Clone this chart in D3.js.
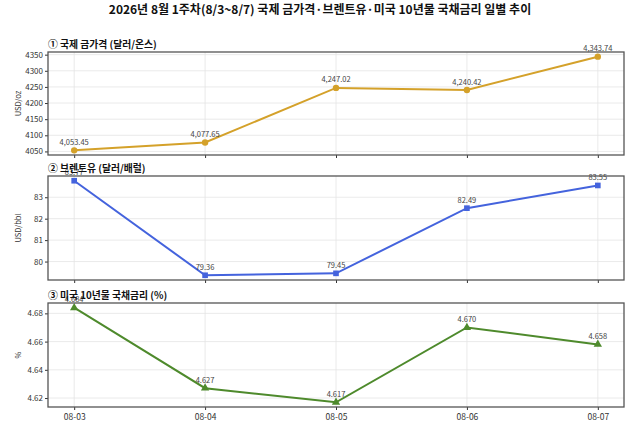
<!DOCTYPE html>
<html>
<head>
<meta charset="utf-8">
<script src="https://cdn.jsdelivr.net/npm/d3@7"></script>
<style>
  body { margin: 0; background: #fff; }
  text { font-family: "Noto Sans CJK KR", "Noto Sans", sans-serif; }
</style>
</head>
<body>
<svg id="chart"></svg>
<script>
const dates = ['08-03', '08-04', '08-05', '08-06', '08-07']
const gold = [4053.45, 4077.65, 4247.02, 4240.42, 4343.74]
const brent = [83.77, 79.36, 79.45, 82.49, 83.55]
const treasury = [4.684, 4.627, 4.617, 4.670, 4.658]

const goldTicks = [4050, 4100, 4150, 4200, 4250, 4300, 4350]
const brentTicks = [80, 81, 82, 83]
const treasuryTicks = [4.62, 4.64, 4.66, 4.68]

const W = 640, H = 430
const left = 48, right = 624

let svg = d3.select('#chart').attr('width', W).attr('height', H)

svg.append('text')
    .attr('x', 320).attr('y', 14)
    .attr('text-anchor', 'middle')
    .attr('font-size', '12px')
    .attr('font-weight', 'bold')
    .attr('fill', '#111')
    .text('2026년 8월 1주차(8/3~8/7) 국제 금가격·브렌트유·미국 10년물 국채금리 일별 추이')

// matplotlib-like x: 5% margin each side
let x = d3.scaleLinear().domain([-0.2, dates.length - 1 + 0.2]).range([left, right])

let panels = [
    { title: '① 국제 금가격 (달러/온스)', unit: 'USD/oz', data: gold, ticks: goldTicks,
      color: '#D4A12A', marker: d3.symbolCircle, size: 32, top: 52, bottom: 155,
      fmt: d3.format(',.2f'), tfmt: d3.format('d') },
    { title: '② 브렌트유 (달러/배럴)', unit: 'USD/bbl', data: brent, ticks: brentTicks,
      color: '#4463DD', marker: d3.symbolSquare, size: 32, top: 176, bottom: 280,
      fmt: d3.format('.2f'), tfmt: d3.format('d') },
    { title: '③ 미국 10년물 국채금리 (%)', unit: '%', data: treasury, ticks: treasuryTicks,
      color: '#4E8A2C', marker: d3.symbolTriangle, size: 30, top: 303, bottom: 407,
      fmt: d3.format('.3f'), tfmt: d3.format('.2f') }
]

panels.forEach((p, i) => {
    let lo = d3.min(p.data), hi = d3.max(p.data)
    let pad = (hi - lo) * 0.05
    let y = d3.scaleLinear().domain([lo - pad, hi + pad]).range([p.bottom, p.top])

    let g = svg.append('g')

    // grid
    g.selectAll('.hgrid').data(p.ticks).enter().append('line')
        .attr('class', 'hgrid')
        .attr('x1', left).attr('x2', right)
        .attr('y1', d => y(d)).attr('y2', d => y(d))
        .attr('stroke', '#e4e4e4').attr('stroke-width', 0.8)
    g.selectAll('.vgrid').data(dates).enter().append('line')
        .attr('class', 'vgrid')
        .attr('x1', (d, j) => x(j)).attr('x2', (d, j) => x(j))
        .attr('y1', p.top).attr('y2', p.bottom)
        .attr('stroke', '#e4e4e4').attr('stroke-width', 0.8)

    // y axis
    let yAxis = d3.axisLeft(y).tickValues(p.ticks).tickFormat(p.tfmt).tickSize(3).tickPadding(2)
    let ya = g.append('g').attr('transform', 'translate(' + left + ',0)').call(yAxis)
    ya.select('.domain').remove()
    ya.selectAll('text').attr('font-size', '8px').attr('fill', '#333')
    ya.selectAll('line').attr('stroke', '#333')

    // x axis ticks
    let xAxis = d3.axisBottom(x).tickValues(d3.range(dates.length))
        .tickFormat(j => i === 2 ? dates[j] : '').tickSize(3).tickPadding(4)
    let xa = g.append('g').attr('transform', 'translate(0,' + p.bottom + ')').call(xAxis)
    xa.select('.domain').remove()
    xa.selectAll('text').attr('font-size', '8.5px').attr('fill', '#333')
    xa.selectAll('line').attr('stroke', '#333')

    g.append('text')
        .attr('transform', 'translate(21,' + (p.top + p.bottom) / 2 + ') rotate(-90)')
        .attr('text-anchor', 'middle')
        .attr('font-size', '7.5px').attr('fill', '#333')
        .text(p.unit)

    let line = d3.line().x((d, j) => x(j)).y(d => y(d))
    g.append('path').datum(p.data)
        .attr('d', line)
        .attr('fill', 'none').attr('stroke', p.color).attr('stroke-width', 2)

    g.selectAll('.pt').data(p.data).enter().append('path')
        .attr('class', 'pt')
        .attr('d', d3.symbol().type(p.marker).size(p.size))
        .attr('transform', (d, j) => 'translate(' + x(j) + ',' + y(d) + ')')
        .attr('fill', p.color)

    g.selectAll('.lbl').data(p.data).enter().append('text')
        .attr('class', 'lbl')
        .attr('x', (d, j) => x(j)).attr('y', d => y(d) - 5.5)
        .attr('text-anchor', 'middle')
        .attr('font-size', '7.5px').attr('fill', '#444')
        .text(d => p.fmt(d))

    // frame
    g.append('rect')
        .attr('x', left).attr('y', p.top)
        .attr('width', right - left).attr('height', p.bottom - p.top)
        .attr('fill', 'none').attr('stroke', '#555').attr('stroke-width', 1.3)

    g.append('text')
        .attr('x', left).attr('y', p.top - 4)
        .attr('font-size', '9.8px').attr('font-weight', 'bold').attr('fill', '#111')
        .text(p.title)
})
</script>
</body>
</html>
